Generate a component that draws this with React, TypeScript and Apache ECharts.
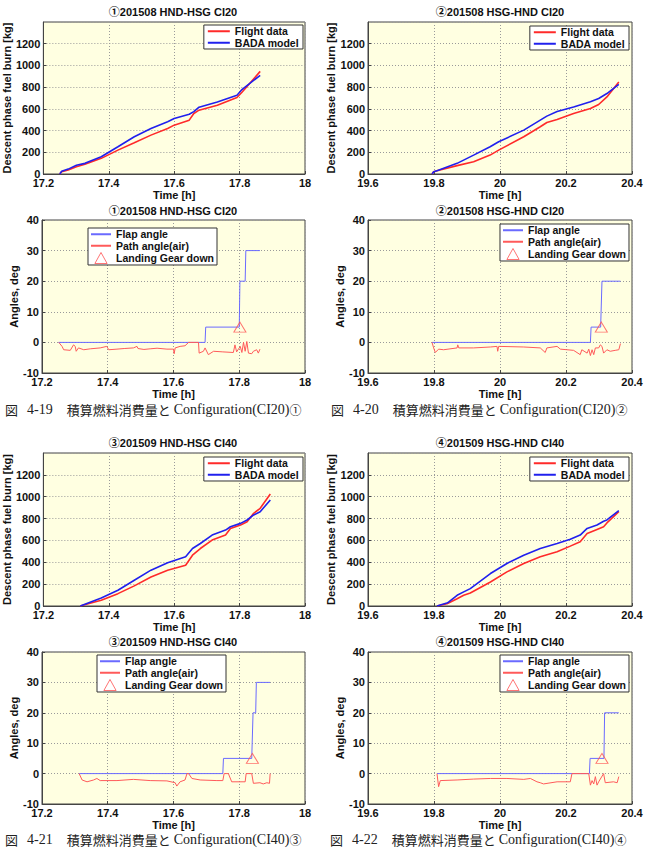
import React, { useEffect, useRef } from "react";
import * as echarts from "echarts";

// ---------- DATA ----------
const chartTitles = [
  "①201508 HND-HSG CI20",
  "②201508 HSG-HND CI20",
  "③201509 HND-HSG CI40",
  "④201509 HSG-HND CI40",
];
const captionNumbers = ["4-19", "4-20", "4-21", "4-22"];
const captionCI = ["Configuration(CI20)", "Configuration(CI20)", "Configuration(CI40)", "Configuration(CI40)"];
const captionMarks = ["①", "②", "③", "④"];
const captionWord = "積算燃料消費量と";
const xRanges = [
  [17.2, 18],
  [19.6, 20.4],
  [17.2, 18],
  [19.6, 20.4],
];

// Fuel burn (kg)
const fuelTime1 = [17.25, 17.256, 17.276, 17.301, 17.327, 17.377, 17.428, 17.478, 17.529, 17.58, 17.6, 17.646, 17.66, 17.676, 17.732, 17.792, 17.808, 17.863];
const fuelFlight1 = [0, 21, 37, 67, 89, 144, 220, 288, 358, 419, 450, 496, 557, 588, 634, 704, 756, 945];
const fuelBada1 = [0, 25, 45, 80, 98, 159, 251, 343, 419, 481, 511, 550, 575, 615, 664, 725, 780, 909];

const fuelTime2 = [19.794, 19.799, 19.809, 19.87, 19.92, 19.97, 19.996, 20.072, 20.122, 20.142, 20.173, 20.223, 20.274, 20.299, 20.324, 20.36];
const fuelFlight2 = [0, 21, 30, 77, 113, 174, 220, 343, 435, 474, 502, 557, 603, 640, 710, 848];
const fuelBada2 = [0, 20, 31, 98, 174, 251, 297, 404, 496, 533, 575, 618, 665, 695, 741, 826];

const fuelTime3 = [17.313, 17.337, 17.377, 17.428, 17.478, 17.529, 17.58, 17.635, 17.656, 17.68, 17.716, 17.757, 17.772, 17.803, 17.823, 17.843, 17.863, 17.894];
const fuelFlight3 = [0, 21, 52, 113, 184, 266, 328, 373, 465, 526, 603, 649, 710, 741, 771, 848, 894, 1025];
const fuelBada3 = [0, 28, 73, 144, 236, 328, 395, 450, 526, 572, 649, 695, 725, 756, 787, 833, 863, 970];

const fuelTime4 = [19.809, 19.839, 19.844, 19.87, 19.89, 19.91, 19.971, 20.021, 20.072, 20.122, 20.173, 20.213, 20.243, 20.264, 20.294, 20.314, 20.324, 20.36];
const fuelFlight4 = [0, 20, 28, 67, 98, 119, 220, 312, 389, 450, 496, 548, 588, 664, 701, 725, 760, 863];
const fuelBada4 = [0, 28, 35, 98, 129, 159, 297, 389, 465, 526, 572, 610, 649, 710, 741, 775, 787, 872];

// Flap angle (deg) steps [time, deg]
const flap1 = [[17.25, 0], [17.696, 0], [17.698, 5], [17.8, 5], [17.802, 20], [17.818, 20], [17.82, 30], [17.863, 30]];
const flap2 = [[19.794, 0], [20.274, 0], [20.276, 5], [20.305, 5], [20.309, 20], [20.365, 20]];
const flap3 = [[17.313, 0], [17.75, 0], [17.752, 5], [17.838, 5], [17.842, 20], [17.85, 20], [17.852, 30], [17.894, 30]];
const flap4 = [[19.809, 0], [20.271, 0], [20.273, 5], [20.315, 5], [20.317, 20], [20.36, 20]];

// Path angle (air) [time, deg]
const path1 = [[17.251, 0], [17.261, -1.3], [17.266, -2.4], [17.286, -2.6], [17.296, -0.8], [17.301, -1.3], [17.304, -2.9], [17.311, -1.8], [17.327, -2.4], [17.347, -2.1], [17.377, -1.8], [17.397, -1.3], [17.403, -2.4], [17.428, -2.2], [17.45, -2.0], [17.478, -1.8], [17.489, -1.3], [17.492, -2.0], [17.51, -2.3], [17.529, -2.1], [17.55, -1.9], [17.58, -2.2], [17.6, -2.2], [17.602, -3.7], [17.605, -1.8], [17.62, -1.3], [17.635, -1.1], [17.646, 0], [17.676, 0], [17.678, -3.5], [17.691, -2.9], [17.696, -1.8], [17.706, -4.0], [17.722, -2.9], [17.75, -3.1], [17.782, -3.3], [17.787, -0.8], [17.792, -3.1], [17.803, -1.3], [17.808, -3.3], [17.813, 0], [17.818, -2.9], [17.823, 0.3], [17.828, -3.5], [17.838, -3.7], [17.843, -2.9], [17.853, -2.4], [17.858, -3.5], [17.863, -2.2]];
const path2 = [[19.794, 0], [19.799, -1.8], [19.804, -3.3], [19.814, -2.2], [19.829, -2.4], [19.87, -1.8], [19.872, -0.8], [19.875, -1.8], [19.92, -1.8], [19.971, -1.5], [19.991, -1.3], [19.993, -2.9], [19.996, -1.3], [20.072, -1.5], [20.122, -1.8], [20.137, -3.3], [20.142, -1.8], [20.173, -1.3], [20.183, -2.2], [20.223, -2.6], [20.243, -4.0], [20.248, -2.4], [20.264, -3.5], [20.269, -2.2], [20.274, -4.3], [20.279, -2.4], [20.284, -4.0], [20.289, -1.8], [20.299, -1.8], [20.304, -0.8], [20.309, -1.3], [20.314, -3.5], [20.324, -2.4], [20.334, -2.9], [20.349, -2.6], [20.36, -2.4], [20.365, -0.4]];
const path3 = [[17.313, 0], [17.322, -2.1], [17.337, -2.7], [17.357, -2.1], [17.367, -1.6], [17.377, -2.3], [17.428, -2.3], [17.478, -1.9], [17.529, -2.3], [17.58, -2.4], [17.605, -3.0], [17.61, -4.1], [17.62, -2.7], [17.635, -2.1], [17.641, 0], [17.646, 0], [17.656, -1.6], [17.681, -2.1], [17.732, -2.3], [17.75, -2.3], [17.754, 0], [17.767, 0], [17.777, -2.7], [17.818, -2.7], [17.821, 0], [17.838, 0], [17.843, -3.2], [17.863, -3.0], [17.873, -3.4], [17.884, -3.0], [17.892, -3.2], [17.894, 0]];
const path4 = [[19.809, 0], [19.814, -4.3], [19.819, -2.3], [19.87, -2.1], [19.92, -1.8], [19.971, -1.6], [20.021, -1.6], [20.072, -1.9], [20.092, -1.6], [20.112, -2.7], [20.122, -3.0], [20.132, -3.4], [20.173, -2.7], [20.213, -2.7], [20.218, 0], [20.243, 0], [20.269, 0], [20.274, -3.8], [20.279, -2.3], [20.284, -3.4], [20.289, -1.0], [20.294, -3.8], [20.299, -2.7], [20.314, 0], [20.319, -3.0], [20.344, -2.7], [20.355, -3.0], [20.36, -1.0]];

// Landing gear down marker [time, deg]
const gear1 = [[17.802, 5]];
const gear2 = [[20.307, 5]];
const gear3 = [[17.84, 5]];
const gear4 = [[20.309, 5]];

const fuelTimes = [fuelTime1, fuelTime2, fuelTime3, fuelTime4];
const fuelFlights = [fuelFlight1, fuelFlight2, fuelFlight3, fuelFlight4];
const fuelBadas = [fuelBada1, fuelBada2, fuelBada3, fuelBada4];
const flaps = [flap1, flap2, flap3, flap4];
const paths = [path1, path2, path3, path4];
const gears = [gear1, gear2, gear3, gear4];

// ---------- LAYOUT ----------
const fuelGrids = [
  { left: 42, top: 22, width: 263, height: 152 },
  { left: 368, top: 22, width: 264, height: 152 },
  { left: 42, top: 453, width: 263, height: 153 },
  { left: 368, top: 453, width: 264, height: 153 },
];
const angleGrids = [
  { left: 42, top: 220, width: 263, height: 153 },
  { left: 368, top: 220, width: 264, height: 153 },
  { left: 42, top: 652, width: 263, height: 152 },
  { left: 368, top: 652, width: 264, height: 152 },
];
const fuelLegendPos = [
  { right: 345, top: 25 },
  { right: 19, top: 26 },
  { right: 345, top: 457 },
  { right: 19, top: 457 },
];
const angleLegendPos = [
  { left: 88, top: 228 },
  { right: 19, top: 224 },
  { left: 97, top: 655 },
  { right: 19, top: 655 },
];
const titlePos = [
  [[173, 12], [173, 211]],
  [[500, 12], [500, 211]],
  [[173, 443], [173, 642]],
  [[500, 443], [500, 642]],
];
const captionPos = [
  [5, 409],
  [331, 409],
  [5, 839],
  [330, 839],
];

const SANS = "'Liberation Sans', Arial, 'Noto Sans CJK JP', sans-serif";
const SERIF = "'Liberation Serif', 'Noto Sans CJK JP', serif";
const CJK = "'Noto Sans CJK JP', sans-serif";
const RED = "#ff2a2a";
const BLUE = "#2020ee";
const FLAP = "#6a6aff";
const PATH = "#ff5a5a";
const GEAR = "#ff5050";

function buildOption() {
  const grid: any[] = [];
  const xAxis: any[] = [];
  const yAxis: any[] = [];
  const series: any[] = [];
  const legend: any[] = [];
  const graphic: any[] = [];

  const gridStyle = {
    show: true,
    backgroundColor: "#ffffe1",
    borderColor: "#444",
    borderWidth: 1,
  };
  const xAx = (gi: number, k: number) => ({
    type: "value",
    gridIndex: gi,
    min: xRanges[k][0],
    max: xRanges[k][1],
    interval: 0.2,
    name: "Time [h]",
    nameLocation: "middle",
    nameGap: 15,
    nameTextStyle: { fontFamily: SANS, fontWeight: "bold", fontSize: 11, color: "#111" },
    axisLine: { show: true, onZero: false, lineStyle: { color: "#444" } },
    axisTick: { show: true, inside: true, length: 3, lineStyle: { color: "#444" } },
    splitLine: { show: true, lineStyle: { color: "#9a9a9a", type: [1, 2] } },
    axisLabel: {
      fontFamily: SANS,
      fontWeight: "bold",
      fontSize: 11,
      color: "#111",
      margin: 3,
      formatter: (v: number) => String(Math.round(v * 10) / 10),
    },
  });
  const yAx = (gi: number, name: string, min: number, max: number, interval: number, showMax: boolean, gap: number) => ({
    type: "value",
    gridIndex: gi,
    min,
    max,
    interval,
    name,
    nameLocation: "middle",
    nameGap: gap,
    nameTextStyle: { fontFamily: SANS, fontWeight: "bold", fontSize: 11, color: "#111" },
    axisLine: { show: true, onZero: false, lineStyle: { color: "#444" } },
    axisTick: { show: true, inside: true, length: 3, lineStyle: { color: "#444" } },
    splitLine: { show: true, lineStyle: { color: "#9a9a9a", type: [1, 2] } },
    axisLabel: {
      fontFamily: SANS,
      fontWeight: "bold",
      fontSize: 11,
      color: "#111",
      margin: 3,
      showMaxLabel: showMax,
      formatter: (v: number) => String(Math.round(v)),
    },
  });
  const legendBase = {
    orient: "vertical",
    backgroundColor: "#ffffff",
    borderColor: "#333",
    borderWidth: 1,
    borderRadius: 0,
    padding: [1, 3, 1, 2],
    itemGap: 1,
    itemWidth: 20,
    itemHeight: 11,
    selectedMode: false,
    textStyle: { fontFamily: SANS, fontSize: 10.5, fontWeight: "bold", color: "#111" },
  };
  const lineItem = (name: string) => ({ name, itemStyle: { opacity: 0 } });
  const triItem = (name: string) => ({
    name,
    icon: "path://M5,0L10,9L0,9Z",
    itemStyle: { color: "rgba(255,255,255,0)", borderColor: GEAR, borderWidth: 1 },
  });

  for (let k = 0; k < 4; k++) {
    const gf = k * 2;
    const ga = k * 2 + 1;
    grid.push({ ...fuelGrids[k], ...gridStyle });
    grid.push({ ...angleGrids[k], ...gridStyle });
    xAxis.push(xAx(gf, k));
    xAxis.push(xAx(ga, k));
    yAxis.push(yAx(gf, "Descent phase fuel burn [kg]", 0, 1400, 200, false, 23));
    yAxis.push(yAx(ga, "Angles, deg", -10, 40, 10, true, 22));

    series.push({
      name: "Flight data",
      type: "line",
      xAxisIndex: gf,
      yAxisIndex: gf,
      symbol: "none",
      data: fuelTimes[k].map((t, i) => [t, fuelFlights[k][i]]),
      lineStyle: { color: RED, width: 1.6 },
      itemStyle: { color: RED },
    });
    series.push({
      name: "BADA model",
      type: "line",
      xAxisIndex: gf,
      yAxisIndex: gf,
      symbol: "none",
      data: fuelTimes[k].map((t, i) => [t, fuelBadas[k][i]]),
      lineStyle: { color: BLUE, width: 1.6 },
      itemStyle: { color: BLUE },
    });
    series.push({
      name: "Flap angle",
      type: "line",
      xAxisIndex: ga,
      yAxisIndex: ga,
      symbol: "none",
      data: flaps[k],
      lineStyle: { color: FLAP, width: 1 },
      itemStyle: { color: FLAP },
    });
    series.push({
      name: "Path angle(air)",
      type: "line",
      xAxisIndex: ga,
      yAxisIndex: ga,
      symbol: "none",
      data: paths[k],
      lineStyle: { color: PATH, width: 1 },
      itemStyle: { color: PATH },
    });
    series.push({
      name: "Landing Gear down",
      type: "scatter",
      xAxisIndex: ga,
      yAxisIndex: ga,
      symbol: "triangle",
      symbolSize: [12, 10],
      data: gears[k],
      itemStyle: { color: "rgba(255,255,255,0)", borderColor: GEAR, borderWidth: 1 },
      z: 5,
    });

    legend.push({
      ...legendBase,
      ...fuelLegendPos[k],
      itemWidth: 22,
      itemHeight: 12,
      padding: [1, 4, 1, 3],
      data: [lineItem("Flight data"), lineItem("BADA model")],
    });
    legend.push({
      ...legendBase,
      ...angleLegendPos[k],
      data: [lineItem("Flap angle"), lineItem("Path angle(air)"), triItem("Landing Gear down")],
    });

    for (const [x, y] of titlePos[k]) {
      graphic.push({
        type: "text",
        x,
        y,
        style: {
          text: chartTitles[k],
          fontFamily: SANS,
          fontWeight: "bold",
          fontSize: 11,
          fill: "#111",
          align: "center",
          verticalAlign: "middle",
        },
      });
    }
    graphic.push({
      type: "text",
      x: captionPos[k][0],
      y: captionPos[k][1],
      style: {
        text:
          "{k|図}{n|" + captionNumbers[k] + "}{w|" + captionWord + "}{l|" + captionCI[k] + "}{m|" + captionMarks[k] + "}",
        fill: "#222",
        align: "left",
        verticalAlign: "middle",
        rich: {
          k: { fontFamily: CJK, fontSize: 13, fill: "#222" },
          n: { fontFamily: SERIF, fontSize: 14, fill: "#222", padding: [0, 0, 0, 9] },
          w: { fontFamily: CJK, fontSize: 13, fill: "#222", padding: [0, 0, 0, 14] },
          l: { fontFamily: SERIF, fontSize: 14, fill: "#222", padding: [0, 0, 0, 3] },
          m: { fontFamily: CJK, fontSize: 12, fill: "#222" },
        },
      },
    });
  }

  return {
    animation: false,
    backgroundColor: "#ffffff",
    grid,
    xAxis,
    yAxis,
    series,
    legend,
    graphic,
  };
}

export default function App() {
  const ref = useRef<HTMLDivElement>(null);
  useEffect(() => {
    if (!ref.current) return;
    const chart = echarts.init(ref.current, undefined, { renderer: "svg" });
    chart.setOption(buildOption() as any);
    return () => chart.dispose();
  }, []);
  return (
    <div
      ref={ref}
      style={{ position: "absolute", left: 0, top: 0, width: 648, height: 849 }}
    />
  );
}
